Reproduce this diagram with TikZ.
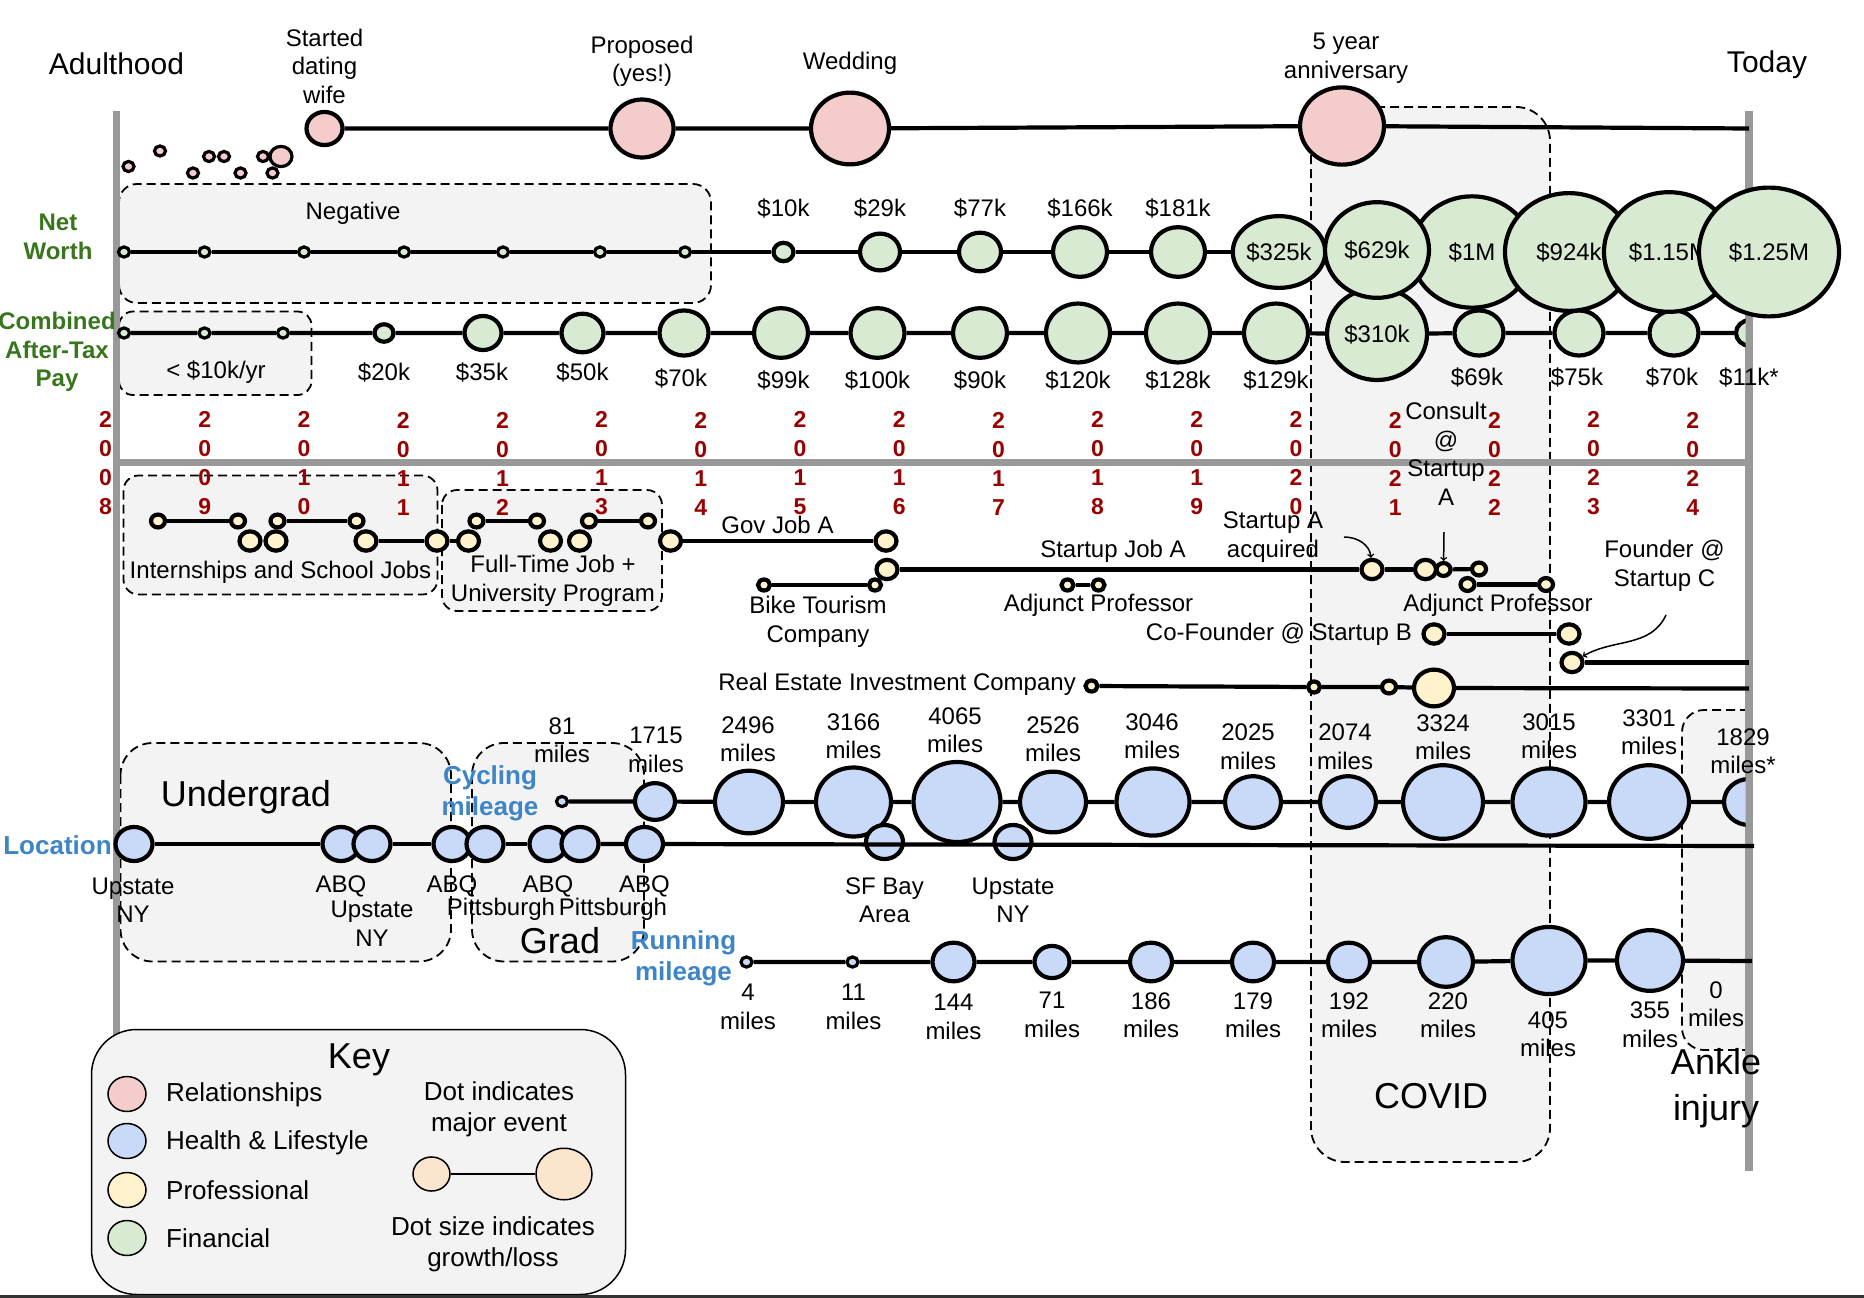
\documentclass[tikz,border=0pt]{standalone}
\usepackage{fontspec}
\setmainfont{Liberation Sans}
\usetikzlibrary{shapes.geometric}
\definecolor{rel_pink}{RGB}{244,204,204}
\definecolor{hl_blue}{RGB}{201,218,248}
\definecolor{pro_yellow}{RGB}{255,242,204}
\definecolor{fin_green}{RGB}{217,234,211}
\definecolor{key_orange}{RGB}{252,229,205}
\definecolor{era_grey}{RGB}{243,243,243}
\definecolor{axis_grey}{RGB}{153,153,153}
\definecolor{year_red}{RGB}{153,0,0}
\definecolor{fin_label}{RGB}{56,118,29}
\definecolor{hl_label}{RGB}{61,133,198}
\tikzset{
  dot/.style={ellipse,draw=black,line width=4.2pt,inner sep=0pt,
    minimum width=#1pt,minimum height={0.92*#1pt}},
  rn/.style={dot=#1,fill=rel_pink},
  hn/.style={dot=#1,fill=hl_blue},
  pn/.style={dot=#1,fill=pro_yellow},
  fn/.style={dot=#1,fill=fin_green},
  kn/.style={dot=#1,line width=1.5pt},
}
\tikzstyle{tl}=[line width=4.2pt]
\tikzstyle{era}=[draw=black,fill=era_grey,line width=1.8pt,dash pattern=on 9pt off 5pt]
\tikzstyle{axis}=[draw=axis_grey,line width=7.5pt]
\tikzstyle{arr}=[line width=1.5pt,->]
\tikzstyle{big}=[font=\fontsize{36}{45}\selectfont]
\tikzstyle{head}=[font=\fontsize{30}{36}\selectfont]
\tikzstyle{keytxt}=[font=\fontsize{26}{31}\selectfont]
\tikzstyle{finlbl}=[font=\bfseries\fontsize{24}{28.5}\selectfont,text=fin_label]
\tikzstyle{hllbl}=[font=\bfseries\fontsize{26}{31}\selectfont,text=hl_label]
\tikzstyle{yr}=[font=\bfseries\fontsize{23}{29}\selectfont,text=year_red]

\begin{document}
\begin{tikzpicture}[x=1pt,y=-1pt,
  every node/.style={font=\fontsize{24}{28.5}\selectfont,inner sep=0pt,align=center}]
  \useasboundingbox (0,0) rectangle (1864,1298);

  % shaded periods
  \draw[era,rounded corners=18pt] (119,184) rectangle (711,303);
  \draw[era,rounded corners=14pt] (119,311.5) rectangle (311.5,395);
  \draw[era,rounded corners=15pt] (123.5,475.5) rectangle (437.5,594.5);
  \draw[era,rounded corners=15pt] (442,490) rectangle (662,611);
  \draw[era,rounded corners=32pt] (120.5,743) rectangle (451,961.5);
  \draw[era,rounded corners=32pt] (472,743) rectangle (644,961.5);
  \draw[era,rounded corners=34pt] (1311,107) rectangle (1550,1162);
  \filldraw[era,rounded corners=22pt] (1749,710) -- (1682,710) -- (1682,1050) -- (1749,1050);

  % axes
  \draw[axis] (116.5,110.5) -- (116.5,1040);
  \draw[axis] (1749,110.5) -- (1749,1171);
  \draw[axis] (116.5,462.5) -- (1749,462.5);

  \node[head] (adult) at (116.5,64) {Adulthood};
  \node[head] (today) at (1767,65) {Today};

  % relationships
  \node[rn=11,line width=3.2pt] (r1) at (128.5,166.5) {};
  \node[rn=11,line width=3.2pt] (r2) at (160,151) {};
  \node[rn=11,line width=3.2pt] (r3) at (193,173) {};
  \node[rn=11,line width=3.2pt] (r4) at (209,156.5) {};
  \node[rn=11,line width=3.2pt] (r5) at (224,156.5) {};
  \node[rn=11,line width=3.2pt] (r6) at (240.5,173) {};
  \node[rn=11,line width=3.2pt] (r7) at (263,156.5) {};
  \node[rn=11,line width=3.2pt] (r8) at (272.5,173) {};
  \node[rn=22,line width=3.2pt] (r9) at (281,156.5) {};
  \node[rn=36] (date) at (324.5,128.5) {};
  \node[rn=63] (propose) at (642,128.5) {};
  \node[rn=78] (wed) at (850,128.5) {};
  \node[rn=84] (anniv) at (1342,126) {};
  \coordinate (relend) at (1749,128.5);
  \draw[tl] (date) -- (propose) -- (wed) -- (anniv) -- (relend);
  \node (datelbl) at (324.5,66) {Started\\dating\\wife};
  \node (proplbl) at (642,61.5) {Proposed\\(yes!)};
  \node (wedlbl) at (850,63) {Wedding};
  \node (annlbl) at (1346,58) {5 year\\anniversary};

  % after-tax pay
  \node[finlbl] (paylbl) at (57,352) {Combined\\After-Tax\\Pay};
  \node (lowlbl) at (216,372) {< \$10k/yr};
  \node[fn=11,line width=3.2pt] (pay1) at (124,333) {};
  \node[fn=11,line width=3.2pt] (pay2) at (204.5,333) {};
  \node[fn=11,line width=3.2pt] (pay3) at (283,333) {};
  \node[fn=19] (pay4) at (384,333) {};
  \node[fn=37] (pay5) at (483,333) {};
  \node[fn=42] (pay6) at (582.5,333) {};
  \node[fn=49] (pay7) at (684,333) {};
  \node[fn=54] (pay8) at (781,333) {};
  \node[fn=54] (pay9) at (877.5,333) {};
  \node[fn=54] (pay10) at (980,333) {};
  \node[fn=64] (pay11) at (1078,333) {};
  \node[fn=64] (pay12) at (1178,333) {};
  \node[fn=64] (pay13) at (1276,333) {};
  \node[fn=100] (pay14) at (1377,334) {\$310k};
  \node[fn=49] (pay15) at (1479,333) {};
  \node[fn=49] (pay16) at (1579,333) {};
  \node[fn=49] (pay17) at (1674,333) {};
  \begin{scope}
    \clip (1600,250) rectangle (1745.5,400);
    \node[fn=28] (pay18) at (1750,333) {};
  \end{scope}
  \draw[tl] (pay1) -- (pay2) -- (pay3) -- (pay4) -- (pay5) -- (pay6) -- (pay7) -- (pay8) -- (pay9)
    -- (pay10) -- (pay11) -- (pay12) -- (pay13) -- (pay14) -- (pay15) -- (pay16) -- (pay17) -- (pay18);
  \node (pay4lbl) at (384,372) {\$20k};
  \node (pay5lbl) at (482,372) {\$35k};
  \node (pay6lbl) at (582.5,372) {\$50k};
  \node (pay7lbl) at (681,378) {\$70k};
  \node (pay8lbl) at (783.5,380.5) {\$99k};
  \node (pay9lbl) at (877.5,380.5) {\$100k};
  \node (pay10lbl) at (980,380.5) {\$90k};
  \node (pay11lbl) at (1078,380.5) {\$120k};
  \node (pay12lbl) at (1178,380.5) {\$128k};
  \node (pay13lbl) at (1276,380.5) {\$129k};
  \node (pay15lbl) at (1477,377) {\$69k};
  \node (pay16lbl) at (1577,377) {\$75k};
  \node (pay17lbl) at (1672,377) {\$70k};
  \node (pay18lbl) at (1749,377) {\$11k*};

  % net worth
  \node[finlbl] (nwlbl) at (58,237) {Net\\Worth};
  \node (neglbl) at (353,213) {Negative};
  \node[fn=11,line width=3.2pt] (nw1) at (124,252) {};
  \node[fn=11,line width=3.2pt] (nw2) at (204.5,252) {};
  \node[fn=11,line width=3.2pt] (nw3) at (304,252) {};
  \node[fn=11,line width=3.2pt] (nw4) at (404,252) {};
  \node[fn=11,line width=3.2pt] (nw5) at (503,252) {};
  \node[fn=11,line width=3.2pt] (nw6) at (600,252) {};
  \node[fn=11,line width=3.2pt] (nw7) at (685,252) {};
  \node[fn=20] (nw8) at (783.5,252) {};
  \node[fn=40] (nw9) at (880,252) {};
  \node[fn=42] (nw10) at (980,252) {};
  \node[fn=54] (nw11) at (1080,252) {};
  \node[fn=54] (nw12) at (1178,252) {};
  \node[fn=78] (nw13) at (1279,252) {\$325k};
  \draw[tl] (nw1) -- (nw2) -- (nw3) -- (nw4) -- (nw5) -- (nw6) -- (nw7) -- (nw8) -- (nw9)
    -- (nw10) -- (nw11) -- (nw12) -- (nw13);
  \node[fn=121] (nw15) at (1472,252) {\$1M};
  \node[fn=104] (nw14) at (1377,250) {\$629k};
  \node[fn=128] (nw16) at (1569,252) {\$924k};
  \node[fn=130] (nw17) at (1669,252) {\$1.15M};
  \node[fn=140] (nw18) at (1769,252) {\$1.25M};
  \node (nw8lbl) at (783.5,208) {\$10k};
  \node (nw9lbl) at (880,208) {\$29k};
  \node (nw10lbl) at (980,208) {\$77k};
  \node (nw11lbl) at (1080,208) {\$166k};
  \node (nw12lbl) at (1178,208) {\$181k};

  % years
  \node[yr] (y08) at (105.6,463.5) {2\\0\\0\\8};
  \node[yr] (y09) at (204.8,463.5) {2\\0\\0\\9};
  \node[yr] (y10) at (304,463.5) {2\\0\\1\\0};
  \node[yr] (y11) at (403.2,463.5) {2\\0\\1\\1};
  \node[yr] (y12) at (502.4,463.5) {2\\0\\1\\2};
  \node[yr] (y13) at (601.6,463.5) {2\\0\\1\\3};
  \node[yr] (y14) at (700.8,463.5) {2\\0\\1\\4};
  \node[yr] (y15) at (800,463.5) {2\\0\\1\\5};
  \node[yr] (y16) at (899.2,463.5) {2\\0\\1\\6};
  \node[yr] (y17) at (998.4,463.5) {2\\0\\1\\7};
  \node[yr] (y18) at (1097.6,463.5) {2\\0\\1\\8};
  \node[yr] (y19) at (1196.8,463.5) {2\\0\\1\\9};
  \node[yr] (y20) at (1296,463.5) {2\\0\\2\\0};
  \node[yr] (y21) at (1395.2,463.5) {2\\0\\2\\1};
  \node[yr] (y22) at (1494.4,463.5) {2\\0\\2\\2};
  \node[yr] (y23) at (1593.6,463.5) {2\\0\\2\\3};
  \node[yr] (y24) at (1692.8,463.5) {2\\0\\2\\4};

  % professional
  \node[pn=14] (sj1) at (158,521) {};
  \node[pn=14] (sj2) at (238,521) {};
  \node[pn=14] (sj3) at (277.5,521) {};
  \node[pn=14] (sj4) at (356.5,521) {};
  \node[pn=21] (sj5) at (250,541) {};
  \node[pn=21] (sj6) at (276,541) {};
  \node[pn=21] (sj7) at (366,541) {};
  \node[pn=21] (sj8) at (437,541) {};
  \node[pn=21] (ft1) at (468.5,541) {};
  \node[pn=14] (ft2) at (476.5,521) {};
  \node[pn=14] (ft3) at (537,521) {};
  \node[pn=14] (ft4) at (589,521) {};
  \node[pn=14] (ft5) at (648,521) {};
  \node[pn=21] (ft6) at (550.5,541) {};
  \node[pn=21] (ft7) at (579.5,541) {};
  \node[pn=21] (gov1) at (670.5,541) {};
  \node[pn=21] (gov2) at (886,541) {};
  \draw[tl] (sj1) -- (sj2);
  \draw[tl] (sj3) -- (sj4);
  \draw[tl] (sj7) -- (sj8) -- (ft1);
  \draw[tl] (ft2) -- (ft3);
  \draw[tl] (ft4) -- (ft5);
  \draw[tl] (gov1) -- (gov2);
  \node (sjlbl) at (280.5,572) {Internships and School Jobs};
  \node (ftlbl) at (553,581) {Full-Time Job +\\University Program};
  \node (govlbl) at (777.5,525) {Gov Job A};

  \node[pn=12] (bk1) at (764,585) {};
  \node[pn=12] (bk2) at (875,585) {};
  \draw[tl] (bk1) -- (bk2);
  \node (bklbl) at (818,622) {Bike Tourism\\Company};
  \node[pn=21] (sa1) at (887,569.5) {};
  \node[pn=21] (sa2) at (1372,569.5) {};
  \node[pn=21] (sa3) at (1425.5,569.5) {};
  \node[pn=14] (sa4) at (1443.5,569.5) {};
  \node[pn=14] (sa5) at (1479,569) {};
  \draw[tl] (sa1) -- (sa2) -- (sa3);
  \draw[tl] (sa4) -- (sa5);
  \node (salbl) at (1113,551.5) {Startup Job A};
  \node (acqlbl) at (1273,537) {Startup A\\acquired};
  \coordinate (acqtail) at (1344,537);
  \draw[arr] (acqtail) to[out=0,in=95] (sa2);
  \node (conlbl) at (1446,454) {Consult\\@\\Startup\\A};
  \coordinate (contail) at (1444,532);
  \draw[arr] (contail) -- (sa4);

  \node[pn=12] (aj1) at (1067.5,585) {};
  \node[pn=12] (aj2) at (1098.5,585) {};
  \draw[tl] (aj1) -- (aj2);
  \node (ajlbl) at (1098.5,605) {Adjunct Professor};
  \node[pn=14] (aj3) at (1467.5,584.5) {};
  \node[pn=14] (aj4) at (1546,584.5) {};
  \draw[tl] (aj3) -- (aj4);
  \node (aj2lbl) at (1498,605) {Adjunct Professor};

  \node[pn=21] (cf1) at (1434,634) {};
  \node[pn=21] (cf2) at (1569,634) {};
  \draw[tl] (cf1) -- (cf2);
  \node[anchor=east] (cflbl) at (1412,634) {Co-Founder @ Startup B};

  \node[pn=21] (fd1) at (1572,662.5) {};
  \coordinate (fdend) at (1749,662.5);
  \draw[tl] (fd1) -- (fdend);
  \node (fdlbl) at (1664.5,566) {Founder @\\Startup C};
  \coordinate (fdtail) at (1666,615);
  \draw[arr] (fdtail) to[out=-115,in=30] (fd1);

  \node[pn=12] (re1) at (1091.5,686) {};
  \node[pn=12] (re2) at (1314,687) {};
  \node[pn=14] (re3) at (1389,687) {};
  \node[pn=40] (re4) at (1434,688) {};
  \coordinate (reend) at (1749,688.5);
  \draw[tl] (re1) -- (re2) -- (re3) -- (re4) -- (reend);
  \node[anchor=east] (relbl) at (1076,684.5) {Real Estate Investment Company};

  % cycling mileage
  \node[hllbl] (cyclbl) at (490,793) {Cycling\\mileage};
  \node[hn=11,line width=3.2pt] (cy0) at (562,801.5) {};
  \node[hn=40] (cy1) at (655,801.5) {};
  \node[hn=68] (cy2) at (749,802) {};
  \node[hn=75] (cy3) at (853.5,802) {};
  \node[hn=87] (cy4) at (957,802) {};
  \node[hn=66] (cy5) at (1053,802) {};
  \node[hn=73] (cy6) at (1153,802) {};
  \node[hn=56] (cy7) at (1253,802) {};
  \node[hn=56] (cy8) at (1348,802) {};
  \node[hn=80] (cy9) at (1443,802) {};
  \node[hn=73] (cy10) at (1549,802) {};
  \node[hn=80] (cy11) at (1649,802) {};
  \begin{scope}
    \clip (1600,700) rectangle (1745.5,900);
    \node[hn=50] (cy12) at (1749,802) {};
  \end{scope}
  \draw[tl] (cy0) -- (cy1) -- (cy2) -- (cy3) -- (cy4) -- (cy5) -- (cy6) -- (cy7) -- (cy8)
    -- (cy9) -- (cy10) -- (cy11) -- (cy12);
  \node (cy0lbl) at (562,740) {81\\miles};
  \node (cy1lbl) at (656,750) {1715\\miles};
  \node (cy2lbl) at (748,739) {2496\\miles};
  \node (cy3lbl) at (853.5,736) {3166\\miles};
  \node (cy4lbl) at (955,730) {4065\\miles};
  \node (cy5lbl) at (1053,739) {2526\\miles};
  \node (cy6lbl) at (1152,736) {3046\\miles};
  \node (cy7lbl) at (1248,746.5) {2025\\miles};
  \node (cy8lbl) at (1345,746.5) {2074\\miles};
  \node (cy9lbl) at (1443,737) {3324\\miles};
  \node (cy10lbl) at (1549,736) {3015\\miles};
  \node (cy11lbl) at (1649,732) {3301\\miles};
  \node (cy12lbl) at (1743,751) {1829\\miles*};

  % location
  \node[hllbl] (loclbl) at (57.5,845) {Location};
  \node[hn=37] (loc1) at (134,844) {};
  \node[hn=37] (loc2) at (341,844) {};
  \node[hn=37] (loc3) at (372,844) {};
  \node[hn=37] (loc4) at (452,844) {};
  \node[hn=37] (loc5) at (485,844) {};
  \node[hn=37] (loc6) at (548,844) {};
  \node[hn=37] (loc7) at (580,844) {};
  \node[hn=37] (loc8) at (644.5,844) {};
  \node[hn=37] (loc9) at (884.5,842) {};
  \node[hn=37] (loc10) at (1013,842) {};
  \coordinate (locend) at (1754,846);
  \draw[tl] (loc1) -- (loc2);
  \draw[tl] (loc3) -- (loc4);
  \draw[tl] (loc5) -- (loc6);
  \draw[tl] (loc7) -- (loc8) -- (locend);
  \node (loc1lbl) at (133,900) {Upstate\\NY};
  \node (loc2lbl) at (341,886) {ABQ};
  \node (loc3lbl) at (372,923.5) {Upstate\\NY};
  \node (loc4lbl) at (452,886) {ABQ};
  \node (loc5lbl) at (501,909.5) {Pittsburgh};
  \node (loc6lbl) at (548,886) {ABQ};
  \node (loc7lbl) at (613,909.5) {Pittsburgh};
  \node (loc8lbl) at (644.5,886) {ABQ};
  \node (loc9lbl) at (884.5,900) {SF Bay\\Area};
  \node (loc10lbl) at (1013,900) {Upstate\\NY};
  \node[big] (uglbl) at (246,797) {Undergrad};
  \node[big] (grlbl) at (560,941) {Grad};

  % running mileage
  \node[hllbl] (runlbl) at (683.5,958) {Running\\mileage};
  \node[hn=11,line width=3.2pt] (ru0) at (746.5,962) {};
  \node[hn=11,line width=3.2pt] (ru1) at (852.5,962) {};
  \node[hn=42] (ru2) at (953.5,962) {};
  \node[hn=35] (ru3) at (1052,962) {};
  \node[hn=42] (ru4) at (1151,962) {};
  \node[hn=42] (ru5) at (1253,962) {};
  \node[hn=42] (ru6) at (1349,962) {};
  \node[hn=54] (ru7) at (1446,962) {};
  \node[hn=73] (ru8) at (1549,960.5) {};
  \node[hn=66] (ru9) at (1650,960.5) {};
  \coordinate (ruend) at (1752,961);
  \draw[tl] (ru0) -- (ru1) -- (ru2) -- (ru3) -- (ru4) -- (ru5) -- (ru6) -- (ru7) -- (ru8)
    -- (ru9) -- (ruend);
  \node (ru0lbl) at (748,1007) {4\\miles};
  \node (ru1lbl) at (853.5,1007) {11\\miles};
  \node (ru2lbl) at (953.5,1017) {144\\miles};
  \node (ru3lbl) at (1052,1015) {71\\miles};
  \node (ru4lbl) at (1151,1015) {186\\miles};
  \node (ru5lbl) at (1253,1015) {179\\miles};
  \node (ru6lbl) at (1349,1015) {192\\miles};
  \node (ru7lbl) at (1448,1015) {220\\miles};
  \node (ru8lbl) at (1548,1034) {405\\miles};
  \node (ru9lbl) at (1650,1024.5) {355\\miles};
  \node (ru10lbl) at (1716,1004) {0\\miles};
  \node[big] (covlbl) at (1431,1096) {COVID};
  \node[big,font=\fontsize{36}{46}\selectfont] (anklbl) at (1716,1088) {Ankle\\injury};

  % key
  \draw[line width=1.5pt,fill=era_grey,rounded corners=45pt] (91.5,1029.5) rectangle (625.5,1294.5);
  \node[big] (keylbl) at (359,1060) {Key};
  \node[kn=38,fill=rel_pink] (k1) at (127,1094) {};
  \node[kn=38,fill=hl_blue] (k2) at (127,1141) {};
  \node[kn=38,fill=pro_yellow] (k3) at (127,1190) {};
  \node[kn=38,fill=fin_green] (k4) at (127,1238) {};
  \node[keytxt,anchor=west] (k1lbl) at (166,1095) {Relationships};
  \node[keytxt,anchor=west] (k2lbl) at (166,1143) {Health \& Lifestyle};
  \node[keytxt,anchor=west] (k3lbl) at (166,1190) {Professional};
  \node[keytxt,anchor=west] (k4lbl) at (166,1238) {Financial};
  \node[keytxt] (evlbl) at (499,1109) {Dot indicates\\major event};
  \node[kn=37,fill=key_orange] (ks) at (431.5,1174) {};
  \node[kn=56,fill=key_orange] (kl) at (564,1174) {};
  \draw[line width=1.5pt] (ks) -- (kl);
  \node[keytxt] (szlbl) at (493,1244) {Dot size indicates\\growth/loss};

  \draw[line width=3pt,black!80] (0,1296.5) -- (1864,1296.5);
\end{tikzpicture}
\end{document}
